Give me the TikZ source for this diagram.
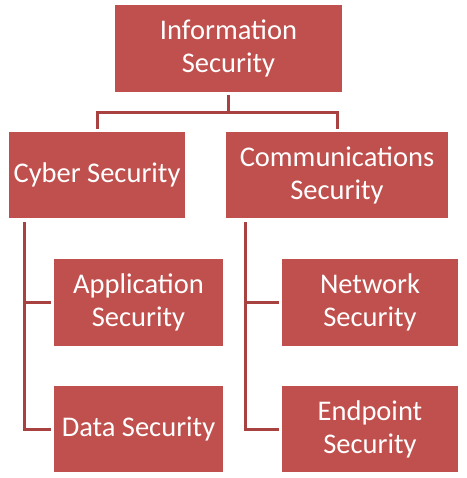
\documentclass[tikz,border=0pt]{standalone}
\usepackage{fontspec}
\setmainfont{Carlito}
\definecolor{boxfill}{RGB}{192,80,77}
\definecolor{linecol}{RGB}{168,66,64}
\begin{document}
\begin{tikzpicture}[x=1pt,y=-1pt,
  box/.style={rectangle, fill=boxfill, draw=none, text=white, align=center,
    inner sep=0pt, font=\fontsize{28.5}{33}\selectfont},
  conn/.style={draw=linecol, line width=3pt, shorten <=3pt, shorten >=3pt}]
\useasboundingbox (0,0) rectangle (466,478);
\node[box, minimum width=227pt, minimum height=87pt] (top) at (228.5,48.5) {Information\\Security};
\node[box, minimum width=176pt, minimum height=86pt] (cyber) at (97,175) {Cyber Security};
\node[box, minimum width=222pt, minimum height=86pt] (comm) at (337,175) {Communications\\Security};
\node[box, minimum width=169pt, minimum height=87pt] (app) at (138.5,302.5) {Application\\Security};
\node[box, minimum width=176pt, minimum height=87pt] (net) at (370,302.5) {Network\\Security};
\node[box, minimum width=169pt, minimum height=86pt] (data) at (138.5,429) {Data Security};
\node[box, minimum width=176pt, minimum height=86pt] (end) at (370,429) {Endpoint\\Security};
\draw[conn] (top.south) -- ++(0,20) -| (cyber.north);
\draw[conn] (top.south) -- ++(0,20) -| (comm.north);
\draw[conn, shorten <=4pt] ([xshift=16pt]cyber.south west) |- (app.west);
\draw[conn, shorten <=4pt] ([xshift=16pt]cyber.south west) |- (data.west);
\draw[conn, shorten <=4pt] ([xshift=20pt]comm.south west) |- (net.west);
\draw[conn, shorten <=4pt] ([xshift=20pt]comm.south west) |- (end.west);
\end{tikzpicture}
\end{document}
